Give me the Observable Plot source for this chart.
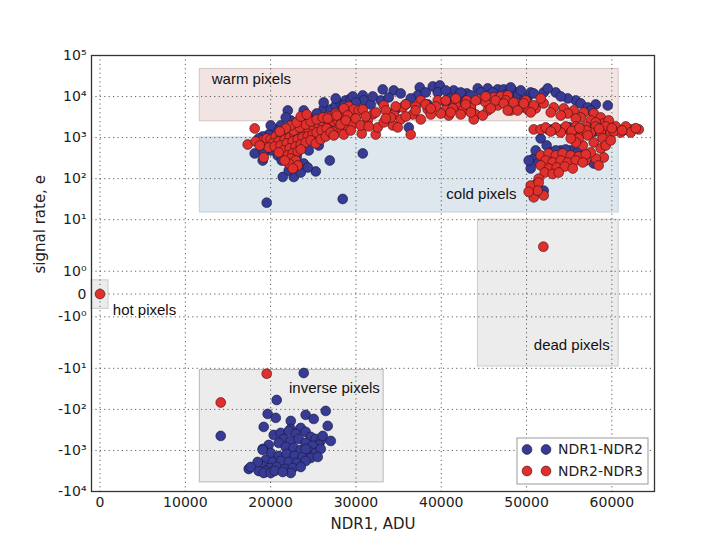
<!DOCTYPE html>
<html><head><meta charset="utf-8">
<script src="https://cdn.jsdelivr.net/npm/d3@7"></script>
<script src="https://cdn.jsdelivr.net/npm/@observablehq/plot@0.6"></script>
<style>body{margin:0;background:#fff}</style>
</head><body><div id="chart"></div>
<script>
// NDR1-NDR2 points: [NDR1 ADU, signal rate e]
const ndr12 = [
[18130,411],[20830,367],[22710,187],[23880,234],[25290,150],[26930,277],[30800,411],[21420,110],[22710,110],[19540,26],[28450,32],[22010,4580],[23880,4580],[26220,5130],[26220,7180],[23530,2930],[22360,2620],[21180,1980],[20600,1490],[19770,1190],[19070,1065],[18600,953],[20010,486],[19190,434],[22010,575],[23060,347],[24460,486],[25640,643],[24700,2930],[25400,3870],[27050,4850],[27630,6070],[28220,6790],[28810,8030],[29390,8990],[24930,1670],[24230,1330],[23060,1770],[21770,3090],[20010,1980],[27630,2210],[26460,1770],[19070,277],[22120,158],[23530,141],[21300,277],[24350,187],
[27630,8990],[29630,10060],[30800,10650],[30910,8030],[33140,14910],[34430,14100],[35250,11910],[37480,16690],[39010,17650],[39830,18670],[39590,12600],[41460,14100],[40880,9510],[44280,15780],[45450,15780],[46620,14910],[47320,14910],[48370,14100],[48950,10650],[50130,9510],[28570,6070],[31740,6420],[34660,4850],[37240,10650],[38420,6420],[42520,8030],[43460,5420],[45570,10650],[36190,1770],[32910,8030],[35840,6420],[40530,7180],[42040,10650],[42990,11910],[47550,11260],[49550,7590],
[29980,7180],[31970,10060],[33840,9510],[36420,8990],[38180,12600],[40530,14100],[42280,12600],[43460,10650],[44630,12600],[46030,12600],[47900,11260],[50490,12600],[53420,12600],[55770,8030],[58110,6420],
[48140,16690],[52010,12600],[54830,8990],[56350,6790],[59520,6070],[52480,15780],[49320,14100],[50840,11910],[57170,5420],[54010,10060],[57520,4580],
[53000,1580],[56000,1500],[59000,1650],[61500,1580],[55000,1800],[58000,1400],
[51660,953],[52360,643],[50840,310],[50490,177],[54010,486],[55180,486],[55950,434],[52010,328],[51070,486],[52840,434],[53420,486],[54590,514],[56700,367],[50250,277],[51420,248],[57880,234],[52010,51],[50960,57],
[23880,-13],[20710,-59],[26460,-109],[19650,-129],[24110,-136],[20600,-161],[25050,-171],[22360,-191],[19190,-267],[26690,-253],[14150,-443],[22360,-299],[23530,-283],[20360,-419],[21180,-374],[22120,-334],[22940,-396],[24110,-354],[24700,-468],[25290,-524],[25870,-587],[26110,-443],[25640,-734],[21540,-524],[22360,-587],[23290,-524],[24110,-656],[24930,-777],[20950,-656],[19770,-734],[19070,-919],[21770,-822],[22710,-869],[23530,-973],[24460,-1029],[25290,-1151],[20010,-1151],[20950,-1363],[21890,-1218],[22820,-1363],[23760,-1441],[24700,-1525],[19420,-1706],[20250,-1909],[21180,-1805],[22120,-1909],[23060,-2019],[24110,-1805],[19070,-2390],[19890,-2674],[20710,-2528],[21650,-2829],[22590,-2674],[23530,-2528],[19420,-3165],[18600,-3165],[19190,-3541],[20010,-3541],[17430,-2829],[19070,-973],[18480,-1909],[17660,-2528],[24110,-919],[27050,-587],[25870,-919],[25520,-1441],[20480,-3165],[22360,-3541],[21420,-3350]
];
// NDR2-NDR3 points
const ndr23 = [
[0,0],[51970,2.2],[19540,-13.5],[14150,-68],
[18130,1670],[17310,680],[19190,328],[19070,852],[19540,953],[20010,901],[20600,1065],[21180,1010],[21770,1190],[20250,720],[20950,805],[21650,901],[22240,1010],[22820,1130],[23290,1260],[23880,1410],[24460,1580],[25050,1770],[25640,1980],[26220,2090],[26810,2340],[27400,2470],[27870,2620],[19770,575],[20480,608],[21180,643],[21890,720],[22590,805],[23180,901],[23760,1010],[24350,1065],[24930,1190],[25400,1330],[25990,1490],[26570,1670],[21540,486],[22240,544],[22940,608],[23530,680],[24110,761],[24700,852],[22010,367],[22590,411],[23180,459],[22360,310],[22940,277],[22120,234],[23530,514],[22710,1490],[23410,1770],[24110,2090],[24700,2470],[25400,2770],[26110,3090],[22360,1980],[23060,2340],[21770,1670],[21070,1410],[23530,3270],[24230,3660],[27050,3270],[27630,3870],[28220,2930],[28810,3460],[29390,4100],[28690,1980],[27980,1670],[27280,1410],[18250,805],[18720,643],[25290,720],[25870,901],[26460,1065],[27050,1330],[23180,210],[22590,177],[21650,277],[20950,434],[26690,2930],[29160,5730],[29750,4850],[28570,5130],
[27750,3460],[29040,3460],[30330,4580],[30800,4850],[31970,3660],[33260,6070],[34430,3660],[35480,5420],[36660,3660],[37600,8030],[38420,4850],[39590,8030],[40530,4850],[41700,6420],[42520,4580],[43460,5420],[44400,8500],[45210,7180],[46150,9510],[46970,10060],[47790,10650],[48720,7180],[49670,5420],[50250,4580],[45450,4580],[46620,6070],[44040,3660],[36420,1190],[30680,1260],[32320,1190],[32550,1770],[34310,1980],[33260,2340],[29630,2090],[28220,2090],[27400,1130],[28570,1190],[31380,2620],[35250,2770],[37600,2770],[38770,3660],[40880,3460],[42280,3660],[43810,2770],[44860,3460],[34900,1770],[34080,3090],[37000,5730],[39940,3870],[41340,5130],[42990,8030],
[28810,2620],[29980,2930],[31150,3270],[32320,4100],[33490,4580],[34660,5730],[35840,6420],[37000,4580],[38180,6420],[39360,5730],[40530,8030],[41700,8990],[42870,6420],[44040,8030],[45210,10060],[46380,8030],[47550,8030],[48720,5730],[49900,8030],[51070,5130],[30560,1980],[33490,2930],[35840,3270],[38770,5130],[41110,4100],[43460,4100],[45800,5130],[48140,4580],[29390,1490],[31500,1870],
[47320,6790],[48490,7180],[49670,6790],[50840,6070],[52010,6790],[53190,5420],[54360,5130],[55530,4580],[56700,4100],[57880,3870],[58700,3090],[48950,4580],[50490,4100],[52840,4100],[54830,3870],[56350,3090],[57520,2620],[59050,2210],[51660,8990],[47790,4580],[54010,3460],[55770,2930],[58110,2340],[59640,2620],
[50840,1580],[51660,1580],[52480,1580],[53290,1580],[54120,1580],[54950,1580],[55770,1580],[56590,1580],[57410,1580],[58230,1580],[59050,1580],[59870,1580],[60690,1580],[61510,1580],[62330,1580],[63150,1580],
[54590,1870],[55770,1870],[56940,1870],[58110,1870],[59280,1870],[60460,1870],[61630,1870],
[54010,1330],[55180,1330],[56350,1330],[57520,1330],[58700,1330],[59870,1330],[61040,1330],[62210,1330],
[52240,1770],[53420,1770],[52840,1410],[60220,1410],[62800,1700],[57000,1500],[58500,1650],[60000,1700],[61200,1500],[55300,1450],[56200,1720],
[57170,1130],[57880,761],[58700,544],[59050,328],[58110,310],[56590,643],[57520,434],[58930,953],[56100,953],[59280,643],[59870,852],[55770,761],[58450,210],[56940,277],[55180,953],
[51660,367],[52590,411],[53420,367],[54230,411],[55180,367],[56120,347],[56940,388],[52240,277],[53060,248],[54010,277],[54830,248],[55770,277],[56590,248],[51660,210],[52600,177],[53540,187],[54480,198],[55420,177],[52130,141],[53070,130],[51420,100],[53770,141],[51190,75],[50490,68],[51420,80],[50840,35],[52010,39],[51300,51],[50250,48]
];

const xTicks = [0, 10000, 20000, 30000, 40000, 50000, 60000];
const yTicks = [1e5, 1e4, 1e3, 1e2, 10, 1, 0, -1, -10, -100, -1000, -10000];
const yTickLabels = ["10⁵","10⁴","10³","10²","10¹","10⁰","0","-10⁰","-10¹","-10²","-10³","-10⁴"];

const regionNames = ["warm pixels", "cold pixels", "hot pixels", "dead pixels", "inverse pixels"];
const regionX1 = [11700, 11700, -1000, 44300, 11700];
const regionX2 = [60800, 60800, 1000, 60800, 33250];
const regionY1 = [2500, 15, -0.65, -9, -6000];
const regionY2 = [47000, 1000, 0.6, 10, -11];
const labelX = [13100, 40600, 1500, 50850, 22150];
const labelY = [26000, 41, -0.69, -2.67, -31];

const seriesNames = ["NDR1-NDR2", "NDR2-NDR3"];

// styles
const regionFill = {"warm pixels": "#f3e4e4", "cold pixels": "#dde7ed", "hot pixels": "#ececec", "dead pixels": "#ececec", "inverse pixels": "#ececec"};
const regionStroke = {"warm pixels": "#d6c4c4", "cold pixels": "#c3d0d8", "hot pixels": "#cccccc", "dead pixels": "#cccccc", "inverse pixels": "#b8b8b8"};
const seriesFill = ["#373b94", "#e0302e"];
const seriesStroke = ["#15153a", "#3a0d0d"];

// matplotlib symlog transform (linthresh 2, linscale 1)
const LT = 2, ADJ = 1 / (1 - 1 / 10);
const T = v => Math.abs(v) <= LT ? v * ADJ : Math.sign(v) * LT * (ADJ + Math.log10(Math.abs(v) / LT));

const regions = regionNames.map((n, i) => ({name: n, x1: regionX1[i], x2: regionX2[i], y1: regionY1[i], y2: regionY2[i], lx: labelX[i], ly: labelY[i]}));
const yLabelOf = new Map(yTicks.map((v, i) => [T(v), yTickLabels[i]]));

const W = 726, H = 545, mT = 55, mB = 54, mL = 91, mR = 72;
const R = 4.9;

const chart = Plot.plot({
  width: W, height: H,
  marginTop: mT, marginBottom: mB, marginLeft: mL, marginRight: mR,
  style: {fontFamily: "'DejaVu Sans', sans-serif", fontSize: "14px", color: "#222", background: "#fff"},
  x: {domain: [-1000, 65000], axis: null},
  y: {domain: [T(-1e4), T(1e5)], axis: null},
  marks: [
    Plot.rect(regions, {x1: "x1", x2: "x2", y1: d => T(d.y1), y2: d => T(d.y2), fill: d => regionFill[d.name], stroke: d => regionStroke[d.name], strokeWidth: 1}),
    Plot.gridX(xTicks, {stroke: "#444", strokeOpacity: 0.85, strokeDasharray: "1.2,3.2", strokeWidth: 1}),
    Plot.gridY(yTicks.map(T), {stroke: "#444", strokeOpacity: 0.85, strokeDasharray: "1.2,3.2", strokeWidth: 1}),
    Plot.axisX(xTicks, {tickSize: 0, tickPadding: 6, tickFormat: d => String(d), label: null, fontSize: 14}),
    Plot.axisY(yTicks.map(T), {tickSize: 0, tickPadding: 5, tickFormat: d => yLabelOf.get(d), label: null, fontSize: 14}),
    Plot.dot(ndr12, {x: d => d[0], y: d => T(d[1]), r: R, fill: seriesFill[0], stroke: seriesStroke[0], strokeWidth: 0.6}),
    Plot.dot(ndr23, {x: d => d[0], y: d => T(d[1]), r: R, fill: seriesFill[1], stroke: seriesStroke[1], strokeWidth: 0.6}),
    Plot.text(regions, {x: "lx", y: d => T(d.ly), text: "name", textAnchor: "start", fontFamily: "'Liberation Sans', Arial, sans-serif", fontSize: 15, fill: "#111"}),
    Plot.text(["NDR1, ADU"], {frameAnchor: "bottom", lineAnchor: "middle", dy: 33, fontSize: 15, fill: "#222"}),
    Plot.text(["signal rate, e"], {frameAnchor: "left", lineAnchor: "middle", dx: -51, rotate: -90, fontSize: 15, fill: "#222"}),
    Plot.frame({stroke: "#333", strokeWidth: 1.3})
  ]
});
document.getElementById("chart").appendChild(chart);

// legend (bottom-right inside the frame)
const svg = d3.select(chart);
const lg = svg.append("g").attr("font-family", "'DejaVu Sans', sans-serif").attr("font-size", 14).attr("text-anchor", "start");
const boxR = W - mR - 6, boxB = H - mB - 7, boxW = 131, boxH = 46;
lg.append("rect").attr("x", boxR - boxW).attr("y", boxB - boxH).attr("width", boxW).attr("height", boxH)
  .attr("fill", "#fff").attr("stroke", "#999").attr("stroke-width", 1);
seriesNames.forEach((name, i) => {
  const cy = boxB - boxH + 11.5 + i * 21.5;
  [10, 29].forEach(off => {
    lg.append("circle").attr("cx", boxR - boxW + off).attr("cy", cy).attr("r", R)
      .attr("fill", seriesFill[i]).attr("stroke", seriesStroke[i]).attr("stroke-width", 0.6);
  });
  lg.append("text").attr("x", boxR - boxW + 41).attr("y", cy).attr("dy", "0.35em").attr("text-anchor", "start").attr("fill", "#222").text(name);
});
</script>
</body></html>
